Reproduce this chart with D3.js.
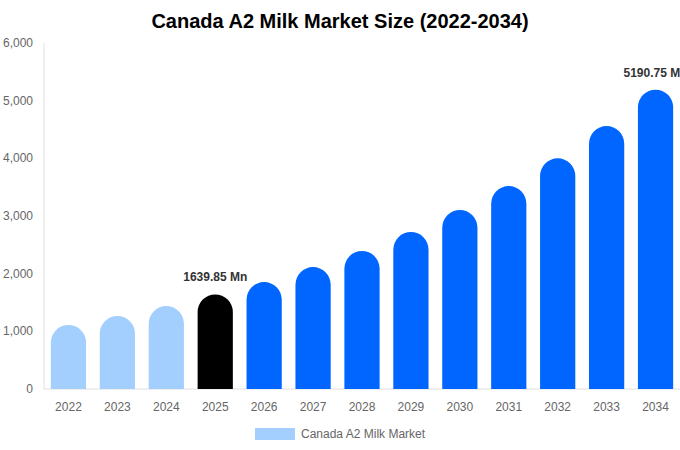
<!DOCTYPE html>
<html>
<head>
<meta charset="utf-8">
<script src="https://cdn.jsdelivr.net/npm/d3@7"></script>
<style>
  body { margin: 0; background: #fff; }
  svg { font-family: "Liberation Sans", Arial, sans-serif; }
</style>
</head>
<body>
<svg id="chart" width="680" height="450"></svg>
<script>
let years = ['2022', '2023', '2024', '2025', '2026', '2027', '2028', '2029', '2030', '2031', '2032', '2033', '2034'];
let market_size = [1110, 1266, 1439, 1639.85, 1855, 2115, 2393, 2722, 3104, 3520, 4000, 4560, 5190.75];
let y_ticks = [0, 1000, 2000, 3000, 4000, 5000, 6000];
let labelled = {'2025': '1639.85 Mn', '2034': '5190.75 Mn'};

let margin = {left: 44, right: 0, top: 43, bottom: 61};
let width = 680, height = 450;

let svg = d3.select('#chart');

let x = d3.scaleBand()
	.domain(years)
	.range([margin.left, width - margin.right])
	.paddingInner(0.28)
	.paddingOuter(0.14);

let y = d3.scaleLinear()
	.domain([0, 6000])
	.range([height - margin.bottom, margin.top]);

function bar_color(yr) {
	if (+yr < 2025) return '#a3cfff';
	if (+yr === 2025) return '#000000';
	return '#0066ff';
}

// title
svg.append('text')
	.attr('x', width / 2)
	.attr('y', 28)
	.attr('text-anchor', 'middle')
	.attr('font-size', 20)
	.attr('font-weight', 'bold')
	.attr('fill', '#000')
	.text('Canada A2 Milk Market Size (2022-2034)');

// axes lines
svg.append('line')
	.attr('x1', margin.left).attr('x2', margin.left)
	.attr('y1', y(6000)).attr('y2', y(0))
	.attr('stroke', '#e0e0e0');

svg.append('line')
	.attr('x1', margin.left).attr('x2', width)
	.attr('y1', y(0)).attr('y2', y(0))
	.attr('stroke', '#e0e0e0');

// y tick labels
svg.selectAll('.y-tick')
	.data(y_ticks)
	.enter().append('text')
	.attr('class', 'y-tick')
	.attr('x', 33)
	.attr('y', d => y(d) + 4)
	.attr('text-anchor', 'end')
	.attr('font-size', 12)
	.attr('fill', '#666')
	.text(d => d3.format(',')(d));

// x tick labels
svg.selectAll('.x-tick')
	.data(years)
	.enter().append('text')
	.attr('class', 'x-tick')
	.attr('x', d => x(d) + x.bandwidth() / 2)
	.attr('y', y(0) + 22)
	.attr('text-anchor', 'middle')
	.attr('font-size', 12)
	.attr('fill', '#666')
	.text(d => d);

// bars with rounded tops
function bar_path(yr, v) {
	let x0 = x(yr), w = x.bandwidth(), r = w / 2;
	let top = y(v), base = y(0);
	return `M${x0},${base} L${x0},${top + r} A${r},${r} 0 0 1 ${x0 + w},${top + r} L${x0 + w},${base} Z`;
}

svg.selectAll('.bar')
	.data(years.map((yr, i) => ({yr: yr, v: market_size[i]})))
	.enter().append('path')
	.attr('class', 'bar')
	.attr('d', d => bar_path(d.yr, d.v))
	.attr('fill', d => bar_color(d.yr));

// value labels
svg.selectAll('.val-label')
	.data(years.map((yr, i) => ({yr: yr, v: market_size[i]})).filter(d => labelled[d.yr]))
	.enter().append('text')
	.attr('class', 'val-label')
	.attr('x', d => x(d.yr) + x.bandwidth() / 2)
	.attr('y', d => y(d.v) - 13)
	.attr('text-anchor', 'middle')
	.attr('font-size', 12)
	.attr('font-weight', 'bold')
	.attr('fill', '#333')
	.text(d => labelled[d.yr]);

// legend
svg.append('rect')
	.attr('x', 255).attr('y', 428)
	.attr('width', 40).attr('height', 12)
	.attr('fill', '#a3cfff');

svg.append('text')
	.attr('x', 301).attr('y', 438)
	.attr('font-size', 12)
	.attr('fill', '#666')
	.text('Canada A2 Milk Market');
</script>
</body>
</html>
